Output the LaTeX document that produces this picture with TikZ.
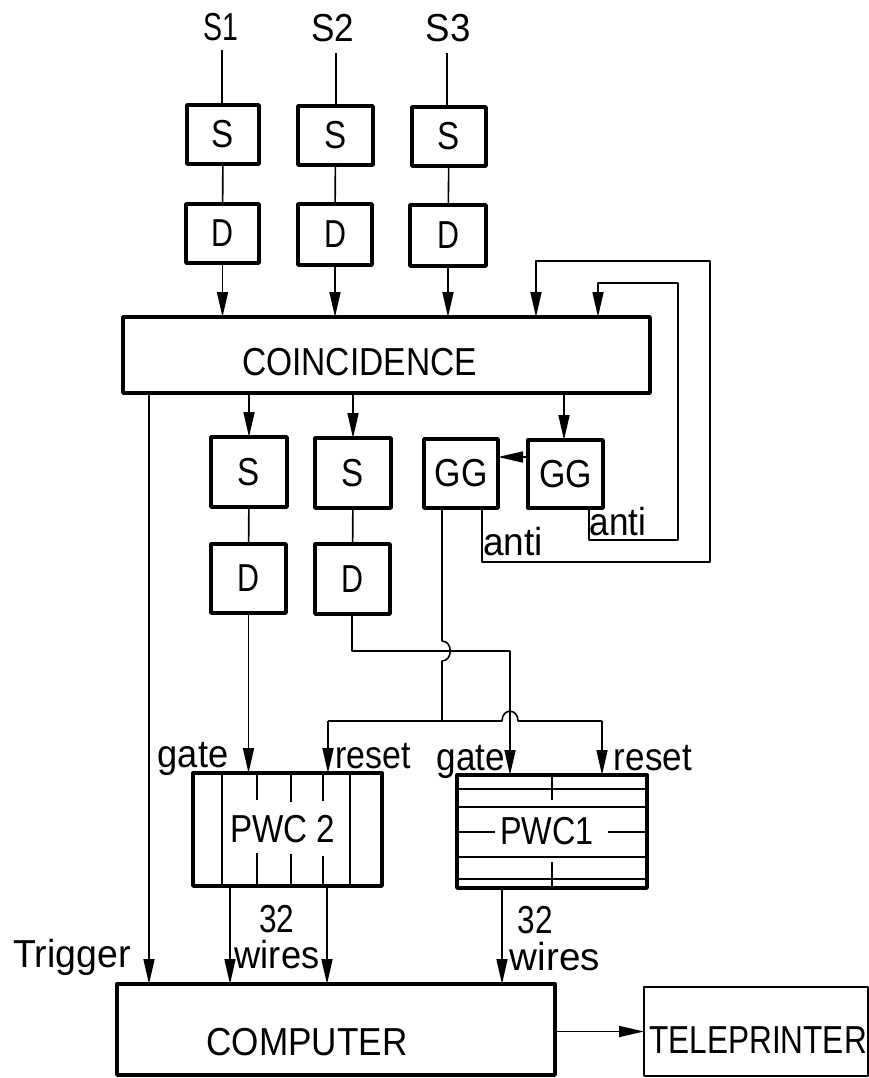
\documentclass[tikz,border=0pt]{standalone}
\usepackage{fontspec}
\setmainfont{Liberation Sans}
\usetikzlibrary{arrows.meta}
\tikzset{
  box/.style={draw=black,rectangle,inner sep=0pt,outer sep=0pt,line width=3.4pt,line join=round,font=\fontsize{39}{39}\selectfont},
  thinbox/.style={line width=2.6pt},
  lbl/.style={inner sep=0pt,anchor=base,font=\fontsize{39}{39}\selectfont},
  wire/.style={draw=black,line width=1.6pt,line join=round},
  arr/.style={wire,-{Stealth[length=25pt,width=11pt,inset=0pt]}},
  rib/.style={draw=black,line width=1.6pt},
}
\newcommand\bx[7]{\node[box,#6,minimum width={(#4-#2)*1pt},minimum height={(#5-#3)*1pt}] (#1) at ({(#2+#4)/2},{(#3+#5)/2}) {#7};}
\newcommand\tx[2]{\scalebox{#1}[1]{#2}}
\newcommand\off[2]{\makebox[0pt]{\hspace{#1}#2}}
\newcommand\drop[2]{\raisebox{-#1}[0pt][0pt]{#2}}
\newcommand\lab[5]{\node[lbl] (#1) at (#2,#3) {\tx{#4}{#5}};}
\begin{document}
\begin{tikzpicture}[x=1pt,y=-1pt]
\useasboundingbox (0,0) rectangle (869,1078);
% top row
\lab{ls1}{221}{41}{.73}{S1}
\lab{ls2}{333}{42}{.90}{S2}
\lab{ls3}{448}{42}{.94}{S3}
\bx{s1}{187}{105}{259}{164}{}{\tx{.85}{S}}
\bx{s2}{298}{106}{373}{165}{}{\tx{.85}{S}}
\bx{s3}{412}{107}{486}{166}{}{\tx{.85}{S}}
\bx{d1}{186}{204}{259}{263}{}{\tx{.78}{D}}
\bx{d2}{298}{204}{372}{265}{}{\tx{.78}{D}}
\bx{d3}{410}{205}{486}{266}{}{\tx{.78}{D}}
\bx{coin}{123}{317}{650}{393}{}{\drop{20pt}{\off{-54pt}{\tx{.86}{COINCIDENCE}}}}
% second row
\bx{s4}{211}{437}{287}{507}{}{\tx{.85}{S}}
\bx{s5}{315}{438}{391}{508}{}{\tx{.85}{S}}
\bx{d4}{211}{544}{286}{613}{}{\tx{.78}{D}}
\bx{d5}{315}{544}{390}{614}{}{\tx{.78}{D}}
\bx{gg1}{424}{439}{498}{508}{}{\tx{.87}{GG}}
\bx{gg2}{528}{440}{603}{508}{}{\tx{.87}{GG}}
% chambers
\bx{pwc2}{193}{773}{382}{886}{}{\off{-10pt}{\tx{.85}{PWC 2}}}
\bx{pwc1}{457}{775}{647}{888}{}{\off{-10pt}{\tx{.83}{PWC1}}}
\bx{comp}{117}{984}{555}{1075}{}{\drop{25.5pt}{\off{-58pt}{\tx{.90}{COMPUTER}}}}
\bx{tele}{644}{987}{868}{1076}{thinbox}{\drop{21.5pt}{\off{4pt}{\tx{.81}{TELEPRINTER}}}}
% PWC 2 ribs
\draw[rib] (222,773) -- (222,886) (350,773) -- (350,886);
\draw[rib,line width=1.8pt] (257,773) -- (257,800) (291,773) -- (291,802) (323,773) -- (323,801)
  (257,853) -- (257,886) (291,854) -- (291,886) (323,856) -- (323,886);
% PWC 1 ribs
\draw[rib] (457,789) -- (647,789) (457,807) -- (647,807) (457,857) -- (647,857) (457,879) -- (647,879)
  (457,832) -- (495,832) (608,832) -- (647,832);
\draw[rib] (552,775) -- (552,800) (552,862) -- (552,888);
% named free ends and corners
\coordinate (t1) at (222,50);
\coordinate (t2) at (336,53);
\coordinate (t3) at (447,53);
\coordinate (a1) at (482,562);
\coordinate (a2) at (710,562);
\coordinate (a3) at (710,261);
\coordinate (a4) at (536,261);
\coordinate (b1) at (589,540);
\coordinate (b2) at (678,540);
\coordinate (b3) at (678,283);
\coordinate (b4) at (598,283);
\coordinate (ggy) at (0,457);
\coordinate (c1) at (564,0);
\coordinate (tr) at (149,0);
\coordinate (k1) at (352,651);
\coordinate (k2) at (510,651);
\coordinate (g1) at (442,641);
\coordinate (g2) at (442,661);
\coordinate (g3) at (442,721);
\coordinate (r2) at (328,721);
\coordinate (h1) at (502,721);
\coordinate (h2) at (518,721);
\coordinate (r1) at (602,721);
\coordinate (w1) at (230,0);
\coordinate (w2) at (327,0);
\coordinate (w3) at (502,0);
% connectors
\draw[wire] (t1) -- (t1 |- s1.north);
\draw[wire] (t2) -- (t2 |- s2.north);
\draw[wire] (t3) -- (t3 |- s3.north);
\draw[wire] (s1) -- (d1);
\draw[wire] (s2) -- (d2);
\draw[wire] (s3) -- (d3);
\draw[arr] (d1.south) -- (d1.south |- coin.north);
\draw[arr] (d2.south) -- (d2.south |- coin.north);
\draw[arr] (d3.south) -- (d3.south |- coin.north);
\draw[arr] (s4.north |- coin.south) -- (s4.north);
\draw[arr] (s5.north |- coin.south) -- (s5.north);
\draw[arr] (c1 |- coin.south) -- (c1 |- gg2.north);
\draw[arr] (gg2.west |- ggy) -- (gg1.east |- ggy);
\draw[wire] (s4) -- (d4);
\draw[wire] (s5) -- (d5);
\draw[arr] (a1 |- gg1.south) -- (a1) -- (a2) -- (a3) -- (a4) -- (a4 |- coin.north);
\draw[arr] (b1 |- gg2.south) -- (b1) -- (b2) -- (b3) -- (b4) -- (b4 |- coin.north);
\draw[arr] (tr |- coin.south) -- (tr |- comp.north);
\draw[arr] (d4.south) -- (d4.south |- pwc2.north);
\draw[arr] (k1 |- d5.south) -- (k1) -- (k2) -- (k2 |- pwc1.north);
\draw[wire] (g1 |- gg1.south) -- (g1) .. controls (453,641) and (453,661) .. (g2) -- (g3);
\draw[wire] (r2) -- (h1) .. controls (502,708) and (518,708) .. (h2) -- (r1);
\draw[arr] (r2) -- (r2 |- pwc2.north);
\draw[arr] (r1) -- (r1 |- pwc1.north);
\draw[arr] (w1 |- pwc2.south) -- (w1 |- comp.north);
\draw[arr] (w2 |- pwc2.south) -- (w2 |- comp.north);
\draw[arr] (w3 |- pwc1.south) -- (w3 |- comp.north);
\draw[arr] (comp.east |- tele.west) -- (tele.west);
% labels
\lab{an1}{513}{555}{.95}{anti}
\lab{an2}{618}{535}{.90}{anti}
\lab{ga2}{193}{767}{.93}{gate}
\lab{re2}{373}{768}{.87}{reset}
\lab{ga1}{471}{770}{.90}{gate}
\lab{re1}{653}{770}{.90}{reset}
\lab{n2}{277}{932}{.81}{32}
\lab{n1}{535}{933}{.81}{32}
\lab{wi2}{277}{968}{.93}{wires}
\lab{wi1}{555}{970}{.99}{wires}
\lab{trg}{72}{967}{.96}{Trigger}
\end{tikzpicture}
\end{document}
